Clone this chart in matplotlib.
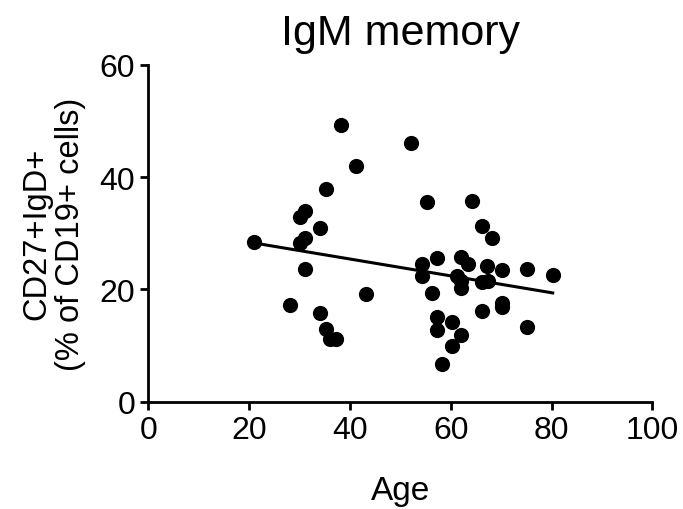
import numpy as np
import matplotlib
matplotlib.use("Agg")
import matplotlib.pyplot as plt

# IgM memory B cells vs age
age = [21.0, 38.1, 52.1, 41.1, 35.2, 31.1, 30.1, 55.2, 34.1, 31.1, 30.1, 31.1,
       43.1, 28.1, 34.1, 35.2, 36.0, 37.2,
       64.2, 66.2, 68.2, 54.2, 57.2, 62.1, 63.3, 67.2, 70.2, 75.2, 80.2,
       54.2, 61.2, 62.1, 62.1, 66.2, 67.4, 56.2, 66.2, 70.2, 70.2,
       57.2, 57.2, 60.2, 62.1, 60.2, 75.2, 58.2]
pct = [28.5, 49.3, 46.0, 42.0, 37.9, 34.0, 32.9, 35.5, 30.9, 29.1, 28.3, 23.7,
       19.2, 17.3, 15.8, 12.9, 11.2, 11.2,
       35.7, 31.2, 29.1, 24.5, 25.6, 25.8, 24.5, 24.2, 23.5, 23.6, 22.6,
       22.3, 22.4, 21.4, 20.2, 21.3, 21.4, 19.4, 16.1, 17.5, 16.8,
       15.0, 12.8, 14.1, 11.8, 10.0, 13.3, 6.7]

age = np.array(age)
pct = np.array(pct)

plt.rcParams['font.family'] = ['Liberation Sans', 'DejaVu Sans']

fig = plt.figure(figsize=(6.83, 5.1), dpi=100)
ax = fig.add_axes([0.2174, 0.2104, 0.7379, 0.6608])

ax.scatter(age, pct, s=120, color='black', zorder=3, linewidths=0)

# linear fit across age range
slope, icpt = np.polyfit(age, pct, 1)
xs = np.array([age.min(), age.max()])
ax.plot(xs, slope * xs + icpt, color='black', lw=2.2, zorder=2)

ax.set_xlim(0, 100)
ax.set_ylim(0, 60)
ax.set_xticks([0, 20, 40, 60, 80, 100])
ax.set_yticks([0, 20, 40, 60])
for s in ['top', 'right']:
    ax.spines[s].set_visible(False)
for s in ['left', 'bottom']:
    ax.spines[s].set_linewidth(2.0)
ax.tick_params(width=2.0, length=6, labelsize=23, direction='out', pad=3.5)

ax.set_xlabel('Age', fontsize=24, labelpad=22)
ax.set_ylabel('CD27+IgD+\n(% of CD19+ cells)', fontsize=23.5, labelpad=10,
              linespacing=1.1)
ax.set_title('IgM memory', fontsize=31, pad=15)

fig.savefig('out.png', dpi=100)
